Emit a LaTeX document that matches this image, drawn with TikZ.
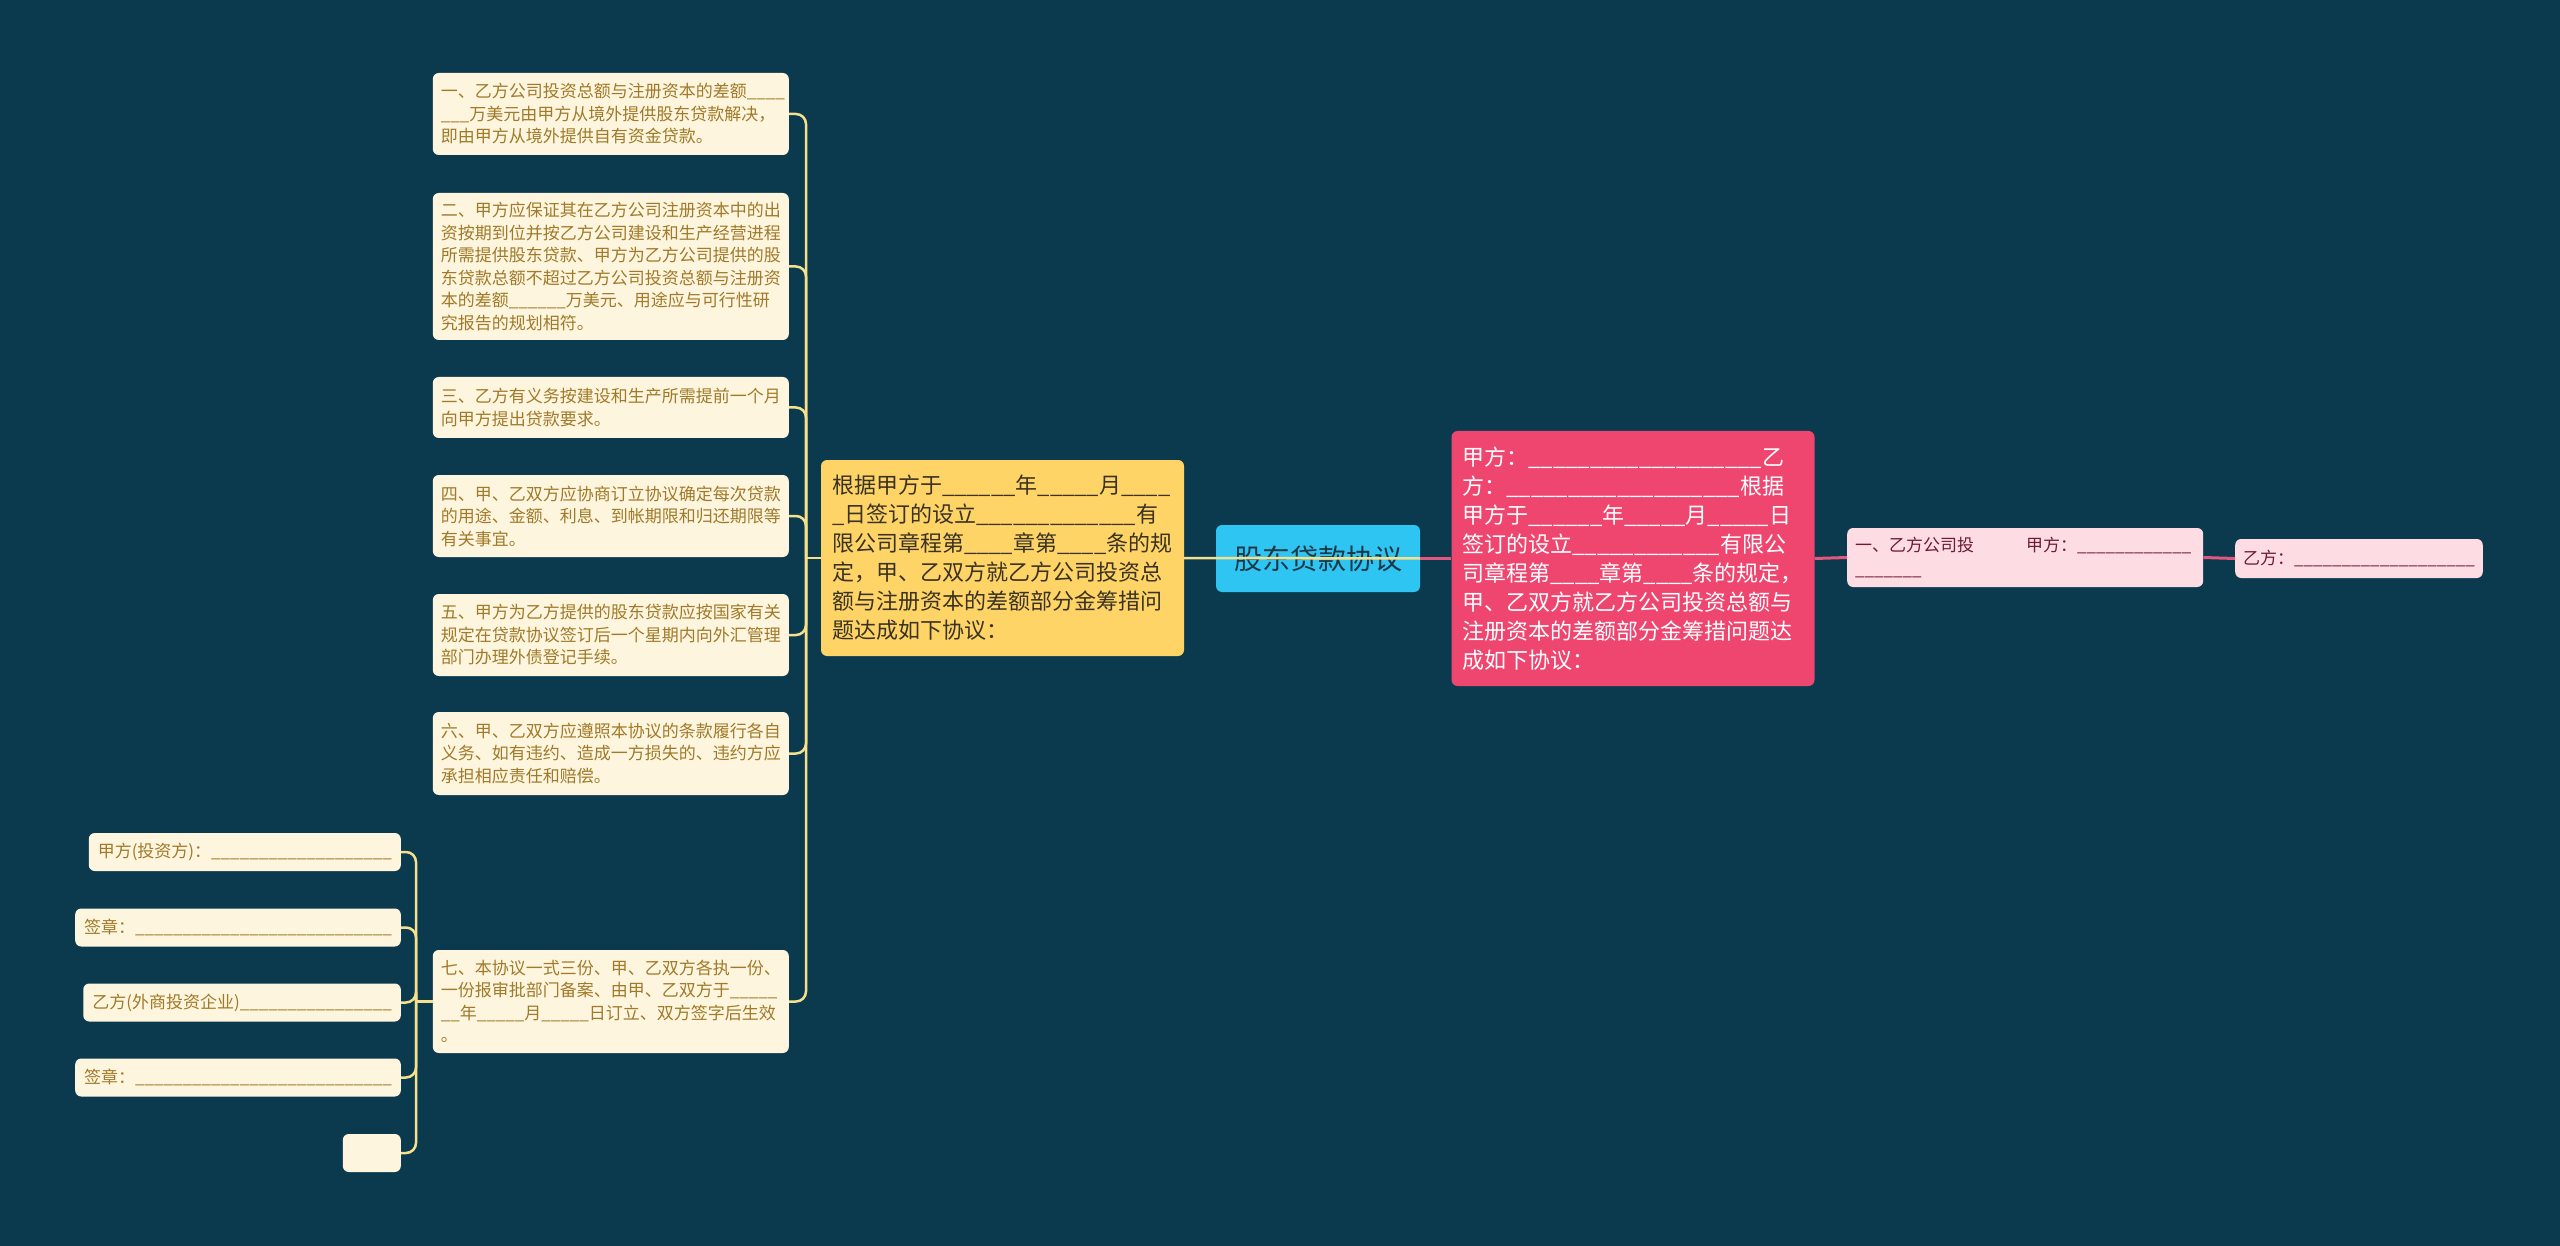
\documentclass[tikz,border=0pt]{standalone}
\usepackage{fontspec}
\setmainfont{Noto Sans CJK SC}
\usepackage{xcolor}
\usepackage{tikz}
\usetikzlibrary{positioning}
\definecolor{fond}{HTML}{0B3A4E}
\definecolor{creme}{HTML}{FDF5DD}
\definecolor{texteor}{HTML}{A07A2A}
\definecolor{jaune}{HTML}{FFD466}
\definecolor{brunfonce}{HTML}{3A3222}
\definecolor{bleuciel}{HTML}{2EC5F2}
\definecolor{encre}{HTML}{1C3848}
\definecolor{rose}{HTML}{EF4670}
\definecolor{roseclair}{HTML}{FDDDE3}
\definecolor{bordeaux}{HTML}{6E1A34}
\definecolor{traitjaune}{HTML}{F6E08C}
\definecolor{traitrose}{HTML}{E2577E}
\newcommand{\trait}[1]{\foreach \k in {1,...,#1}{\_}}
\tikzset{
  feuille/.style={rectangle, rounded corners=6pt, fill=creme, text=texteor,
    font=\fontsize{17}{22.5}\selectfont, align=left, text width=340pt,
    inner xsep=8pt, inner ysep=0pt, anchor=east},
  signe/.style={rectangle, rounded corners=6pt, fill=creme, text=texteor,
    font=\fontsize{17}{22.5}\selectfont, minimum height=38pt,
    inner xsep=9pt, inner ysep=0pt, anchor=east},
  branche/.style={rectangle, rounded corners=6pt, fill=jaune, text=brunfonce,
    font=\fontsize{22}{29}\selectfont, align=left, text width=341pt,
    inner xsep=11pt, inner ysep=0pt},
  brancherose/.style={branche, fill=rose, text=white},
  racine/.style={rectangle, rounded corners=6pt, fill=bleuciel, text=encre,
    font=\fontsize{28}{34}\selectfont, minimum width=204pt, minimum height=67pt},
  rosette/.style={rectangle, rounded corners=6pt, fill=roseclair, text=bordeaux,
    font=\fontsize{17}{24}\selectfont, align=left, inner xsep=8pt,
    inner ysep=0pt, anchor=west},
  lien/.style={line width=2.5pt, color=traitjaune, rounded corners=10pt},
  lienrose/.style={line width=3pt, color=traitrose}
}
\begin{document}
\begin{tikzpicture}[x=1pt, y=-1pt]
    \fill[fond] (0,0) rectangle (2560,1246);

    \node[racine] (gen) at (1318,558.5) {股东贷款协议};
    \node[branche, minimum height=196pt] (zhu) at (1002.5,558) {根据甲方于\trait{6}年\trait{5}月\trait{4}\\
      \trait{1}日签订的设立\trait{13}有\\
      限公司章程第\trait{4}章第\trait{4}条的规\\
      定，甲、乙双方就乙方公司投资总\\
      额与注册资本的差额部分金筹措问\\
      题达成如下协议：};
    \node[brancherose, minimum height=255pt] (fen) at (1633,558.5) {甲方：\trait{19}乙\\
      方：\trait{19}根据\\
      甲方于\trait{6}年\trait{5}月\trait{5}日\\
      签订的设立\trait{12}有限公\\
      司章程第\trait{4}章第\trait{4}条的规定，\\
      甲、乙双方就乙方公司投资总额与\\
      注册资本的差额部分金筹措问题达\\
      成如下协议：};
    \node[rosette, text width=340pt, minimum height=59pt] (p1) at (1847,557.5) {一、乙方公司投\hspace*{52pt}甲方：\trait{12}\\
      \trait{7}};
    \node[rosette, minimum height=39pt] (p2) at (2235,558.5) {乙方：\trait{19}};

    \node[feuille, minimum height=82pt] (c1) at (789,114) {一、乙方公司投资总额与注册资本的差额\trait{4}\\
      \trait{3}万美元由甲方从境外提供股东贷款解决，\\
      即由甲方从境外提供自有资金贷款。};
    \node[feuille, minimum height=147pt] (c2) at (789,266.5) {二、甲方应保证其在乙方公司注册资本中的出\\
      资按期到位并按乙方公司建设和生产经营进程\\
      所需提供股东贷款、甲方为乙方公司提供的股\\
      东贷款总额不超过乙方公司投资总额与注册资\\
      本的差额\trait{6}万美元、用途应与可行性研\\
      究报告的规划相符。};
    \node[feuille, minimum height=61pt] (c3) at (789,407.5) {三、乙方有义务按建设和生产所需提前一个月\\
      向甲方提出贷款要求。};
    \node[feuille, minimum height=82pt] (c4) at (789,516) {四、甲、乙双方应协商订立协议确定每次贷款\\
      的用途、金额、利息、到帐期限和归还期限等\\
      有关事宜。};
    \node[feuille, minimum height=82pt] (c5) at (789,635) {五、甲方为乙方提供的股东贷款应按国家有关\\
      规定在贷款协议签订后一个星期内向外汇管理\\
      部门办理外债登记手续。};
    \node[feuille, minimum height=83pt] (c6) at (789,753.5) {六、甲、乙双方应遵照本协议的条款履行各自\\
      义务、如有违约、造成一方损失的、违约方应\\
      承担相应责任和赔偿。};
    \node[feuille, minimum height=103pt] (c7) at (789,1001.5) {七、本协议一式三份、甲、乙双方各执一份、\\
      一份报审批部门备案、由甲、乙双方于\trait{5}\\
      \trait{2}年\trait{5}月\trait{5}日订立、双方签字后生效\\
      。};

    \node[signe] (s1) at (401,852) {甲方(投资方)：\trait{19}};
    \node[signe] (s2) at (401,927.5) {签章：\trait{27}};
    \node[signe] (s3) at (401,1002.5) {乙方(外商投资企业)\trait{16}};
    \node[signe] (s4) at (401,1077.5) {签章：\trait{27}};
    \node[signe, minimum width=58pt] (s5) at (401,1153) {};

    \coordinate (zhou) at (806,558);
    \coordinate (zhou2) at (416,1001.5);
    \foreach \n in {c1,c2,c3,c4,c5,c6,c7}
      \draw[lien] (\n.east) -| (zhou);
    \draw[lien] (zhou) -- (zhu.west);
    \foreach \n in {s1,s2,s3,s4,s5}
      \draw[lien] (\n.east) -| (zhou2);
    \draw[lien] (zhou2) -- (c7.west);
    \draw[lien] (zhu.east) -- (gen.east);
    \draw[lienrose] (gen.east) -- (fen.west);
    \draw[lienrose] (fen.east) -- (p1.west);
    \draw[lienrose] (p1.east) -- (p2.west);
  \end{tikzpicture}
\end{document}
